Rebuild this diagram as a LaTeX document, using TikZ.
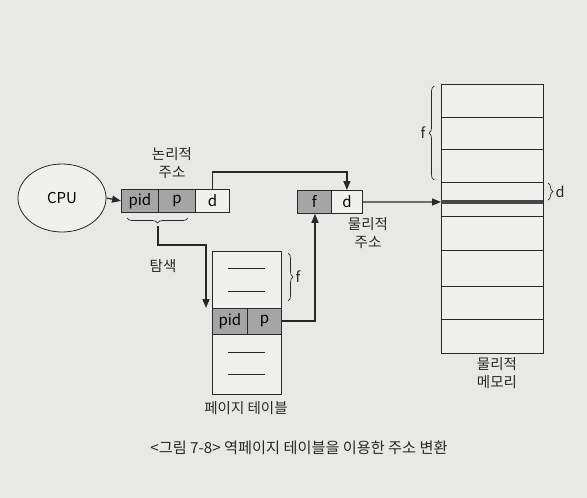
\documentclass[tikz,border=0pt]{standalone}
\usepackage{fontspec}
\setmainfont{Noto Sans CJK KR}
\usetikzlibrary{decorations.pathreplacing,arrows.meta,shapes.geometric}
\definecolor{paper}{RGB}{232,232,230}
\definecolor{darkfill}{RGB}{165,165,165}
\definecolor{lightfill}{RGB}{240,240,238}
\definecolor{ink}{RGB}{40,40,40}
\tikzset{
  cell/.style={draw=ink, line width=0.8pt, minimum height=23pt, inner sep=0pt, font=\fontsize{15}{15}\selectfont, anchor=north west},
  darkcell/.style={cell, fill=darkfill},
  lightcell/.style={cell, fill=lightfill},
  conn/.style={draw=ink, line width=1.3pt},
  arr/.style={conn, -{Triangle[length=9pt,width=7pt]}},
  lbl/.style={font=\fontsize{14.5}{18}\selectfont, align=center, text=ink},
  brc/.style={draw=ink, line width=0.7pt, decorate, decoration={brace, amplitude=5pt}},
  rowline/.style={draw=ink, line width=0.8pt},
}
\begin{document}
\begin{tikzpicture}[x=1pt,y=-1pt]
\fill[paper] (0,0) rectangle (587,498);
\useasboundingbox (0,0) rectangle (587,498);

% CPU
\node[draw=ink, line width=0.8pt, ellipse, minimum width=88pt, minimum height=68pt, font=\fontsize{15}{15}\selectfont, fill=lightfill] (cpu) at (62,198) {CPU};

% logical address
\node[darkcell, minimum width=37pt] (lpid) at (121,189) {pid};
\node[darkcell, minimum width=37pt] (lp) at (158,189) {p};
\node[lightcell, minimum width=34pt] (ld) at (195,189) {d};
\node[lbl] (llabel) at (172,163) {논리적\\주소};

\draw[arr] (cpu.east) -- (lpid.west);

% brace under pid,p
\draw[brc] (188,218) -- (127,218) coordinate[midway] (bmid);
\coordinate (btip) at (158,226);
\coordinate (s1) at (158,245);
\coordinate (s2) at (206,245);
\node[lbl] (search) at (163,266) {탐색};

% page table
\node[draw=ink, line width=0.8pt, fill=lightfill, minimum width=69pt, minimum height=143pt, inner sep=0pt, anchor=north west] (pt) at (212,251) {};
\node[darkcell, minimum width=35pt, minimum height=26pt] (tpid) at (212,308) {pid};
\node[darkcell, minimum width=34pt, minimum height=26pt] (tp) at (247,308) {p};
\draw[rowline] (228,268) -- (265,268);
\draw[rowline] (228,291) -- (265,291);
\draw[rowline] (228,352) -- (265,352);
\draw[rowline] (228,374) -- (265,374);
\draw[brc] (288,253) -- (288,301) node[midway, right=4pt, lbl] (tf) {f};
\node[lbl] (ptlabel) at (246,408) {페이지 테이블};

\draw[arr] (btip) -- (s1) -- (s2) -- (s2 |- tpid.north);

% physical address
\node[darkcell, minimum width=34pt] (pf) at (297,190) {f};
\node[lightcell, minimum width=31pt] (pd) at (331,190) {d};
\node[lbl] (plabel) at (368,233) {물리적\\주소};

\coordinate (u1) at (ld.north |- 0,172);
\coordinate (u2) at (pd.north |- 0,172);
\draw[arr] (ld.north) -- (u1) -- (u2) -- (pd.north);

\coordinate (r1) at (315,321);
\draw[arr] (tp.east |- r1) -- (r1) -- (r1 |- pf.south);

% physical memory
\node[draw=ink, line width=0.8pt, fill=lightfill, minimum width=102pt, minimum height=269pt, inner sep=0pt, anchor=north west] (mem) at (441,84) {};
\foreach \yy in {117,149,182,216,250,286,319} {
  \draw[rowline] (441,\yy) -- (543,\yy);
}
\draw[draw=ink!85, line width=3.5pt] (441,202) -- (543,202);
\draw[brc] (434,180) -- (434,86) node[midway, left=5pt, lbl] (mf) {f};
\draw[brc] (548,183) -- (548,200) node[midway, right=4pt, lbl] (md) {d};
\node[lbl] (mlabel) at (497,373) {물리적\\메모리};

\draw[arr] (pd.east) -- (mem.west |- 0,202);

% caption
\node[font=\fontsize{15.2}{16}\selectfont, text=ink] (cap) at (299,448) {<그림 7-8> 역페이지 테이블을 이용한 주소 변환};
\end{tikzpicture}
\end{document}
